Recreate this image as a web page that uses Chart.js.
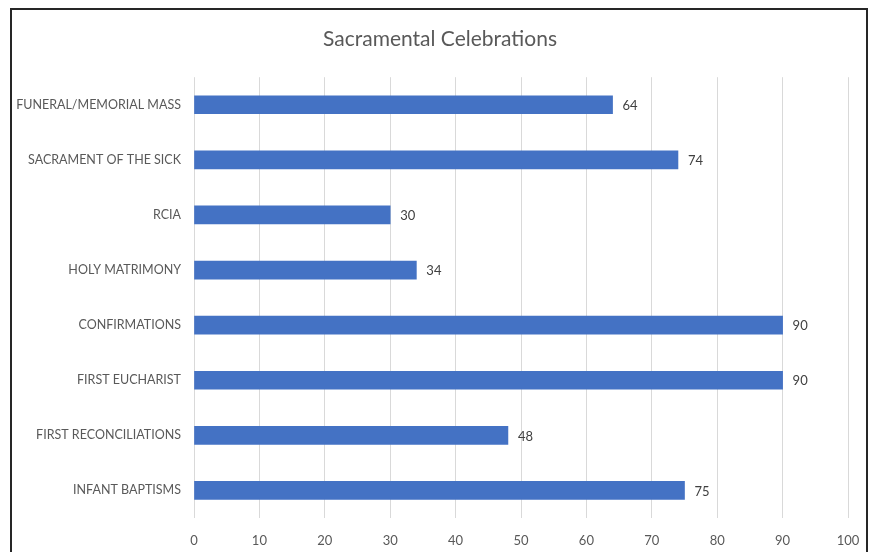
<!DOCTYPE html>
<html>
<head>
<meta charset="utf-8">
<script src="https://cdn.jsdelivr.net/npm/chart.js@4.4.1/dist/chart.umd.min.js"></script>
<style>
  html, body { margin: 0; padding: 0; background: #fff; overflow: hidden; }
  .frame {
    position: absolute; left: 10px; top: 8px;
    width: 858px; height: 600px;
    box-sizing: border-box; border: 2px solid #262626;
  }
  .wrap { position: absolute; left: 0; top: 0; width: 876px; height: 552px; }
</style>
</head>
<body>
<div class="frame"></div>
<div class="wrap"><canvas id="chart" width="876" height="552"></canvas></div>
<script>
const categories = [
  "FUNERAL/MEMORIAL MASS",
  "SACRAMENT OF THE SICK",
  "RCIA",
  "HOLY MATRIMONY",
  "CONFIRMATIONS",
  "FIRST EUCHARIST",
  "FIRST RECONCILIATIONS",
  "INFANT BAPTISMS"
];
const celebrations = [64, 74, 30, 34, 90, 90, 48, 75];
const tickValues = [0, 10, 20, 30, 40, 50, 60, 70, 80, 90, 100];

const FONT = "Lato, 'Open Sans', sans-serif";

// value labels at the end of each bar
const valueLabels = {
  id: "valueLabels",
  afterDatasetsDraw(chart) {
    const ctx = chart.ctx;
    const meta = chart.getDatasetMeta(0);
    ctx.save();
    ctx.font = "13px " + FONT;
    ctx.fillStyle = "#404040";
    ctx.textAlign = "left";
    ctx.textBaseline = "middle";
    meta.data.forEach((bar, i) => {
      ctx.fillText(celebrations[i], bar.x + 10, bar.y + 1);
    });
    ctx.restore();
  }
};

new Chart(document.getElementById("chart"), {
  type: "bar",
  data: {
    labels: categories,
    datasets: [{
      data: celebrations,
      backgroundColor: "#4472C4",
      barThickness: 18
    }]
  },
  options: {
    indexAxis: "y",
    responsive: false,
    animation: false,
    layout: { padding: { left: 16, right: 12, top: 0, bottom: 0 } },
    plugins: {
      legend: { display: false },
      tooltip: { enabled: false },
      title: {
        display: true,
        text: "Sacramental Celebrations",
        color: "#595959",
        font: { family: FONT, size: 21, weight: "normal", lineHeight: 1.2 },
        padding: { top: 27, bottom: 25 }
      }
    },
    scales: {
      x: {
        min: 0,
        max: 100,
        afterBuildTicks(scale) {
          scale.ticks = tickValues.map(v => ({ value: v }));
        },
        afterFit(scale) { scale.height = 34; },
        grid: { color: "#d9d9d9", drawTicks: false },
        border: { display: false },
        ticks: {
          color: "#595959",
          padding: 15,
          font: { family: FONT, size: 13 }
        }
      },
      y: {
        afterFit(scale) { scale.width = 178; },
        grid: { display: false, drawTicks: false },
        border: { display: false },
        ticks: {
          color: "#595959",
          padding: 13,
          font: { family: FONT, size: 12.5 }
        }
      },
      // empty spacer on the right so the title centres on the frame
      y2: {
        type: "category",
        position: "right",
        afterFit(scale) { scale.width = 16; },
        grid: { display: false, drawTicks: false },
        border: { display: false },
        ticks: { display: false }
      }
    }
  },
  plugins: [valueLabels]
});
</script>
</body>
</html>
